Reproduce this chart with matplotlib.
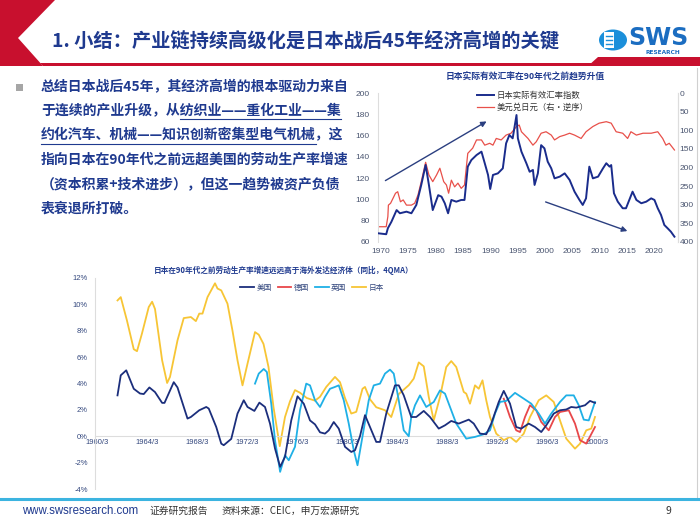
import matplotlib
matplotlib.use('Agg')
import matplotlib.pyplot as plt
from matplotlib.patches import Polygon, Circle, Rectangle, FancyArrowPatch
from matplotlib.lines import Line2D
from matplotlib.ticker import FuncFormatter

CJK = ['Noto Sans CJK SC', 'DejaVu Sans']
plt.rcParams['font.family'] = CJK

# ---------------- data: top chart (REER & USDJPY) ----------------
reer_years = [1969.5, 1971.0, 1971.3, 1971.95, 1972.9, 1973.5, 1974.7, 1975.6, 1976.5, 1977.4,
              1978.2, 1978.8, 1979.5, 1980.5, 1981.1, 1981.7, 1982.3, 1982.9, 1983.8, 1984.7,
              1985.3, 1985.9, 1986.55, 1987.5, 1988.4, 1989.0, 1989.6, 1990.0, 1990.5, 1991.4,
              1992.3, 1992.9, 1993.5, 1994.1, 1994.8, 1995.05, 1995.7, 1996.6, 1997.2, 1997.8,
              1998.1, 1998.7, 1999.3, 1999.9, 2000.5, 2001.15, 2001.75, 2002.7, 2003.6, 2004.5,
              2005.4, 2006.3, 2006.9, 2007.5, 2008.1, 2008.75, 2009.7, 2010.6, 2011.2, 2011.8,
              2012.1, 2012.6, 2013.3, 2014.2, 2014.8, 2015.4, 2016.0, 2016.7, 2017.6, 2018.5,
              2019.4, 2020.0, 2020.6, 2021.2, 2021.8, 2022.4, 2023.0, 2023.65]
reer_vals = [68.2, 67.3, 72.9, 79, 90, 87, 88.5, 87, 94.8, 113.6,
             132.4, 113.6, 90, 104, 102.6, 96.4, 87, 99.5, 97.9, 99.5,
             99.5, 130.8, 137, 141.7, 144.9, 134, 123, 109.8, 123, 124.5,
             129.2, 152.7, 160.5, 157.4, 179.3, 157.4, 144.9, 134, 126, 127.7,
             113.6, 124.5, 151, 148, 135.5, 129.2, 119.8, 121.4, 124.5, 118.3,
             107.3, 99.5, 94.8, 101, 130.8, 119.8, 121.4, 129.2, 134, 130.8,
             132.3, 105.8, 97.9, 91.7, 91.7, 99.5, 107.3, 99.5, 96.4, 97.9,
             101, 99.5, 91.7, 85.4, 76, 72.9, 69.7, 65]

fx_years = [1969.5, 1971.0, 1971.3, 1971.4, 1971.8, 1972.7, 1973.1, 1973.6, 1974.1, 1974.7,
            1975.6, 1976.2, 1976.8, 1977.4, 1978.2, 1978.8, 1979.5, 1980.2, 1980.8, 1981.5,
            1982.0, 1982.4, 1982.9, 1983.5, 1984.1, 1984.7, 1985.3, 1985.9, 1986.8, 1987.5,
            1988.4, 1989.0, 1989.9, 1990.5, 1991.1, 1992.0, 1992.9, 1993.8, 1994.8, 1995.3,
            1995.7, 1996.9, 1997.8, 1998.4, 1999.3, 2000.2, 2001.15, 2001.75, 2002.7, 2003.6,
            2004.5, 2005.4, 2006.6, 2007.5, 2008.75, 2009.9, 2011.2, 2012.1, 2013.0, 2014.2,
            2015.1, 2015.7, 2016.7, 2017.9, 2019.4, 2020.6, 2021.5, 2022.1, 2022.7, 2023.65]
fx_vals = [359, 359, 332, 301, 296, 269, 265, 292, 287, 301,
           301, 296, 274, 238, 186, 220, 238, 220, 202, 238,
           247, 269, 234, 252, 242, 256, 247, 162, 148, 126,
           126, 140, 135, 140, 122, 126, 113, 108, 90, 86,
           104, 122, 140, 131, 108, 104, 113, 126, 117, 113,
           108, 113, 122, 104, 90, 81, 77, 81, 104, 108,
           122, 104, 113, 108, 108, 104, 122, 140, 135, 153]

top_xticks = [1970, 1975, 1980, 1985, 1990, 1995, 2000, 2005, 2010, 2015, 2020]
top_left_ticks = [60, 80, 100, 120, 140, 160, 180, 200]
top_right_ticks = [0, 50, 100, 150, 200, 250, 300, 350, 400]

# ---------------- data: bottom chart (labour productivity, yoy 4QMA, %) ----------------
us_x = [1961.8, 1962.06, 1962.5, 1963.1, 1963.6, 1963.9, 1964.35, 1964.8, 1965.37, 1965.56,
        1966.3, 1966.6, 1967.4, 1967.67, 1968.34, 1968.9, 1969.1, 1969.7, 1970.1, 1970.3,
        1970.9, 1971.4, 1971.9, 1972.2, 1972.75, 1973.15, 1973.6, 1974.0, 1974.4, 1974.81,
        1975.2, 1975.7, 1976.2, 1976.7, 1977.2, 1977.6, 1978.0, 1978.4, 1978.7, 1979.1,
        1979.5, 1980.0, 1980.5, 1980.8, 1981.2, 1981.6, 1982.0, 1982.5, 1982.8, 1983.3,
        1984.0, 1984.3, 1984.7, 1985.3, 1985.7, 1986.3, 1986.8, 1987.5, 1988.0, 1988.5,
        1989.1, 1989.9, 1990.3, 1990.8, 1991.3, 1991.7, 1992.3, 1992.7, 1993.2, 1993.7,
        1994.1, 1994.7, 1995.2, 1995.7, 1996.1, 1996.7, 1997.2, 1997.7, 1998.1, 1998.5,
        1999.2, 1999.6, 2000.0]
us_y = [3.1, 4.62, 5.0, 3.6, 3.24, 3.2, 3.7, 3.35, 2.53, 2.53,
        4.1, 3.7, 1.34, 1.46, 1.97, 2.22, 2.1, 0.7, -0.56, -0.68,
        -0.2, 1.72, 2.73, 2.22, 1.92, 2.55, 2.22, 0.96, -0.93, -2.32,
        -1.56, 1.2, 3.03, 2.47, 1.2, 0.9, 0.3, 0.2, 0.45, 1.08,
        0.58, -0.8, -1.19, -1.06, 0.0, 1.6, 0.7, -0.43, -0.43, 1.72,
        3.86, 3.86, 3.1, 1.46, 1.46, 1.92, 1.46, 0.58, 0.83, 1.16,
        0.96, 1.26, 0.96, 0.2, 0.15, 0.96, 2.6, 3.44, 2.47, 0.7,
        0.58, 0.96, 0.7, 0.32, 0.83, 1.72, 1.97, 2.03, 2.22, 2.17,
        2.35, 2.68, 2.53]

de_x = [1992.7, 1993.2, 1993.7, 1994.0, 1994.4, 1994.8, 1995.3, 1995.7, 1996.3, 1996.8,
        1997.2, 1997.9, 1998.4, 1998.8, 1999.3, 2000.0]
de_y = [2.85, 1.46, 0.45, 0.32, 1.46, 2.35, 1.97, 1.08, 0.45, 1.46,
        1.84, 1.97, 0.96, -0.3, -0.56, 0.7]

uk_x = [1972.8, 1973.1, 1973.5, 1973.75, 1974.1, 1974.4, 1974.81, 1975.2, 1975.5, 1976.0,
        1976.4, 1976.9, 1977.2, 1977.6, 1978.0, 1978.4, 1978.8, 1979.2, 1979.5, 1979.9,
        1980.3, 1980.7, 1981.0, 1981.3, 1981.9, 1982.3, 1982.8, 1983.2, 1983.6, 1983.9,
        1984.3, 1984.7, 1985.1, 1985.3, 1985.6, 1986.0, 1986.5, 1987.1, 1987.6, 1988.0,
        1988.4, 1988.9, 1989.7, 1990.4, 1991.1, 1991.6, 1992.0, 1992.4, 1992.9, 1993.6,
        1994.3, 1994.9, 1995.5, 1996.0, 1996.5, 1997.2, 1997.7, 1998.3, 1998.7, 1999.1,
        1999.5, 2000.0]
uk_y = [3.99, 4.75, 5.1, 4.87, 2.47, -0.3, -2.7, -1.44, -1.82, -0.8,
        1.97, 3.99, 3.86, 2.73, 2.22, 2.98, 3.6, 3.74, 3.86, 2.73,
        0.96, -1.06, -2.2, -0.56, 2.73, 3.86, 3.99, 4.75, 5.05, 4.75,
        2.73, 0.45, 0.0, 1.46, 2.35, 3.1, 2.22, 2.6, 3.48, 3.23,
        2.22, 0.96, -0.18, -0.05, 0.15, 0.45, 1.72, 2.6, 2.68, 3.29,
        2.85, 2.47, 1.72, 0.96, 1.72, 2.6, 3.1, 3.1, 2.35, 1.26,
        1.2, 2.6]

jp_x = [1961.8, 1962.06, 1962.55, 1963.1, 1963.36, 1963.76, 1964.3, 1964.57, 1964.8, 1965.37,
        1965.77, 1966.0, 1966.6, 1967.1, 1967.67, 1968.07, 1968.34, 1968.6, 1969.0, 1969.6,
        1969.8, 1970.1, 1970.6, 1971.0, 1971.4, 1971.8, 1972.2, 1972.8, 1973.1, 1973.48,
        1973.88, 1974.28, 1974.78, 1975.2, 1975.6, 1976.0, 1976.4, 1976.94, 1977.6, 1978.0,
        1978.5, 1979.2, 1979.6, 1980.0, 1980.5, 1980.9, 1981.4, 1981.6, 1982.0, 1982.5,
        1983.2, 1983.7, 1984.3, 1985.1, 1985.5, 1985.9, 1986.3, 1986.7, 1987.1, 1987.6,
        1988.1, 1988.5, 1988.9, 1989.5, 1989.7, 1990.0, 1990.4, 1990.7, 1991.0, 1991.3,
        1991.6, 1992.1, 1992.7, 1993.2, 1993.7, 1994.3, 1994.8, 1995.5, 1996.1, 1996.7,
        1997.2, 1997.7, 1998.4, 1998.8, 1999.3, 1999.7, 2000.0]
jp_y = [10.3, 10.55, 8.8, 6.6, 6.45, 7.8, 9.8, 10.2, 9.65, 5.76,
        4.04, 4.5, 7.27, 8.96, 9.04, 8.73, 9.3, 9.3, 10.55, 11.6,
        11.2, 11.06, 10.05, 8.0, 5.76, 3.86, 5.5, 7.9, 7.7, 7.0,
        5.25, 2.2, -0.75, 1.46, 2.65, 3.5, 3.3, 2.9, 2.7, 2.99,
        3.74, 4.5, 4.1, 2.9, 1.72, 1.85, 3.6, 3.74, 2.8, 2.2,
        1.97, 1.46, 3.2, 3.87, 4.37, 5.6, 5.3, 2.98, 1.2, 2.98,
        5.25, 5.7, 5.25, 3.36, 3.23, 2.47, 3.86, 3.6, 4.24, 2.73,
        1.46, 0.2, -0.3, -0.05, -0.43, 0.2, 1.46, 2.73, 3.1, 2.6,
        1.2, -0.18, -0.94, -0.56, 0.45, 0.58, 1.46]

bot_xtick_years = [1960, 1964, 1968, 1972, 1976, 1980, 1984, 1988, 1992, 1996, 2000]
bot_xtick_labels = [f"{y}/3" for y in bot_xtick_years]
bot_yticks = [-4, -2, 0, 2, 4, 6, 8, 10, 12]

# ---------------- figure ----------------
W, H = 700, 525
fig = plt.figure(figsize=(7, 5.25), dpi=100)
fig.patch.set_facecolor('white')

def fx(x):
    return x / W

def fy(y):
    return 1 - y / H

RED = '#C8102E'
NAVY = '#1F3A8F'

# header shapes
fig.add_artist(Polygon([(fx(0), fy(0)), (fx(55), fy(0)), (fx(18), fy(38)), (fx(43), fy(66)), (fx(0), fy(66))],
                       closed=True, transform=fig.transFigure, facecolor=RED, edgecolor='none'))
fig.add_artist(Polygon([(fx(40), fy(62.5)), (fx(700), fy(62.5)), (fx(700), fy(66)), (fx(43), fy(66))],
                       closed=True, transform=fig.transFigure, facecolor=RED, edgecolor='none'))
fig.add_artist(Polygon([(fx(588), fy(66)), (fx(598), fy(57)), (fx(700), fy(57)), (fx(700), fy(66))],
                       closed=True, transform=fig.transFigure, facecolor=RED, edgecolor='none'))
fig.text(fx(52), fy(41), "1. 小结：产业链持续高级化是日本战后45年经济高增的关键",
         fontsize=13.9, fontweight='bold', color=NAVY, va='center', ha='left', family=CJK)

# logo
fig.add_artist(Circle((fx(613), fy(40)), 14 / W, transform=fig.transFigure,
                      facecolor='#1B8FDA', edgecolor='none'))
fig.add_artist(Rectangle((fx(604), fy(48)), 10 / W, 16 / H, transform=fig.transFigure,
                         facecolor='white', edgecolor='none'))
for yy in [36, 40, 44]:
    fig.add_artist(Line2D([fx(606), fx(612)], [fy(yy), fy(yy)], transform=fig.transFigure,
                          color='#1B8FDA', lw=1.0))
fig.text(fx(628), fy(38), "SWS", fontsize=17, fontweight='bold', color='#1B6DC1',
         va='center', ha='left', family=['DejaVu Sans'])
fig.text(fx(645), fy(52.5), "RESEARCH", fontsize=4.2, fontweight='bold', color='#1B6DC1',
         va='center', ha='left', family=['DejaVu Sans'])

# borders / footer
fig.add_artist(Line2D([fx(697), fx(697)], [fy(68), fy(497)], transform=fig.transFigure,
                      color='#D0D0D0', lw=0.8))
fig.add_artist(Line2D([fx(0), fx(700)], [fy(498.5), fy(498.5)], transform=fig.transFigure,
                      color='#3CB4E0', lw=2.2))
fig.text(fx(22), fy(511), "www.swsresearch.com", fontsize=8.3, color=NAVY, va='center', ha='left',
         family=['Liberation Sans', 'DejaVu Sans'])
fig.text(fx(149), fy(511), "证券研究报告", fontsize=7, color='#333333', va='center', ha='left', family=CJK)
fig.text(fx(222), fy(511), "资料来源：CEIC，申万宏源研究", fontsize=7, color='#333333', va='center',
         ha='left', family=CJK)
fig.text(fx(668), fy(511), "9", fontsize=7.5, color='#333333', va='center', ha='center', family=CJK)

# bullet text
fig.add_artist(Rectangle((fx(16), fy(91)), 7 / W, 7 / H, transform=fig.transFigure,
                         facecolor='#A6A6A6', edgecolor='none'))
body_lines = [
    ("总结日本战后45年，其经济高增的根本驱动力来自", None),
    ("于连续的产业升级，从纺织业——重化工业——集", ("于连续的产业升级，从", "于连续的产业升级，从纺织业——重化工业——集")),
    ("约化汽车、机械——知识创新密集型电气机械，这", ("", "约化汽车、机械——知识创新密集型电气机械")),
    ("指向日本在90年代之前远超美国的劳动生产率增速", None),
    ("（资本积累+技术进步），但这一趋势被资产负债", None),
    ("表衰退所打破。", None),
]
fig.canvas.draw()
renderer = fig.canvas.get_renderer()
BODY_FS = 10.0
TX = 41

def text_width(s):
    if not s:
        return 0.0
    t = fig.text(0, 0, s, fontsize=BODY_FS, fontweight='bold', family=CJK)
    w = t.get_window_extent(renderer).width
    t.remove()
    return w

for i, (line, ul) in enumerate(body_lines):
    yc = 87 + 24.3 * i
    fig.text(fx(TX), fy(yc), line, fontsize=BODY_FS, fontweight='bold', color=NAVY,
             va='center', ha='left', family=CJK)
    if ul is not None:
        x0 = TX + text_width(ul[0])
        x1 = TX + text_width(ul[1])
        fig.add_artist(Line2D([fx(x0), fx(x1)], [fy(yc + 8), fy(yc + 8)], transform=fig.transFigure,
                              color=NAVY, lw=0.8))

# ---------------- top chart ----------------
TICKC = '#4A5570'
ax1 = fig.add_axes([fx(378), fy(242), 300 / W, 149 / H])
l1, = ax1.plot(reer_years, reer_vals, color='#1A2C8C', lw=1.4, label='日本实际有效汇率指数', zorder=3)
ax1.set_xlim(1969.5, 2024.3)
ax1.set_ylim(60, 200)
ax1.set_yticks(top_left_ticks)
ax1.set_xticks(top_xticks)
ax1.tick_params(axis='both', length=0, labelsize=6, labelcolor=TICKC)
ax1.tick_params(axis='y', pad=6)
ax1.tick_params(axis='x', pad=4)
for s in ['top', 'bottom']:
    ax1.spines[s].set_visible(False)
for s in ['left', 'right']:
    ax1.spines[s].set_color('#DDDDDD')
    ax1.spines[s].set_linewidth(0.8)
ax2 = ax1.twinx()
l2, = ax2.plot(fx_years, fx_vals, color='#E8504A', lw=0.9, label='美元兑日元（右·逆序）', zorder=2)
ax2.set_ylim(400, 0)
ax2.set_yticks(top_right_ticks)
ax2.tick_params(axis='y', length=0, labelsize=6, labelcolor=TICKC, pad=1)
for s in ['top', 'bottom', 'left']:
    ax2.spines[s].set_visible(False)
ax2.spines['right'].set_color('#DDDDDD')
ax1.set_zorder(ax2.get_zorder() + 1)
ax1.patch.set_visible(False)
for t in ax1.get_xticklabels() + ax1.get_yticklabels() + ax2.get_yticklabels():
    t.set_family(['Liberation Sans', 'DejaVu Sans'])

fig.legend(handles=[l1, l2], loc='upper left', bbox_to_anchor=(fx(473), fy(87)),
           frameon=False, fontsize=6, handlelength=2.0, handletextpad=0.3,
           labelspacing=0.35, borderpad=0, labelcolor='#333333')
fig.text(fx(525), fy(77), "日本实际有效汇率在90年代之前趋势升值", fontsize=6.3, fontweight='bold',
         color=NAVY, ha='center', va='center', family=CJK)

for (x0, y0, x1, y1) in [(383, 182, 489, 120), (543, 201, 630, 232)]:
    fig.add_artist(FancyArrowPatch((fx(x0), fy(y0)), (fx(x1), fy(y1)), transform=fig.transFigure,
                                   arrowstyle='-|>', mutation_scale=8, color='#2B3F80', lw=1.0))

# ---------------- bottom chart ----------------
ax3 = fig.add_axes([fx(95), fy(489), 505 / W, 211 / H])
ax3.plot(us_x, us_y, color='#1B2E7C', lw=1.3, label='美国', zorder=4)
ax3.plot(de_x, de_y, color='#E8474A', lw=1.3, label='德国', zorder=3)
ax3.plot(uk_x, uk_y, color='#1FB0E6', lw=1.3, label='英国', zorder=3)
ax3.plot(jp_x, jp_y, color='#F7C535', lw=1.3, label='日本', zorder=2)
ax3.set_xlim(1960.0, 2000.4)
ax3.set_ylim(-4, 12)
ax3.set_yticks(bot_yticks)
ax3.yaxis.set_major_formatter(FuncFormatter(lambda v, p: f"{int(v)}%"))
ax3.set_xticks([y + 2 / 12 for y in bot_xtick_years])
ax3.set_xticklabels(bot_xtick_labels)
ax3.spines['bottom'].set_position(('data', 0))
ax3.spines['bottom'].set_color('#DDDDDD')
ax3.spines['left'].set_color('#DDDDDD')
ax3.spines['top'].set_visible(False)
ax3.spines['right'].set_visible(False)
ax3.tick_params(axis='both', length=0, labelsize=5.5, labelcolor='#34487E')
ax3.tick_params(axis='x', pad=2)
ax3.tick_params(axis='y', pad=5)
for t in ax3.get_xticklabels() + ax3.get_yticklabels():
    t.set_family(['Liberation Sans', 'DejaVu Sans'])
ax3.patch.set_visible(False)

fig.legend(*ax3.get_legend_handles_labels(), loc='center', bbox_to_anchor=(fx(312), fy(288)),
           ncol=4, frameon=False, fontsize=5.5, handlelength=1.8, handletextpad=0.3,
           columnspacing=0.8, borderpad=0, labelcolor='#34487E')
fig.text(fx(284), fy(270), "日本在90年代之前劳动生产率增速远远高于海外发达经济体（同比，4QMA）",
         fontsize=5.5, fontweight='bold', color=NAVY, ha='center', va='center', family=CJK)

fig.savefig('out.png', dpi=100)
